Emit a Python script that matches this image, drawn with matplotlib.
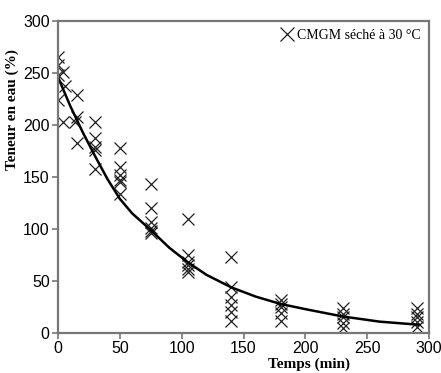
import numpy as np
import matplotlib.pyplot as plt

# measured water content (%) at each drying time (min)
t_obs = [0, 0, 4, 0, 6, 0, 4,
         15, 15, 14, 15,
         30, 30, 30, 30, 30,
         50, 50, 50, 50, 50, 50,
         75, 75, 75, 75, 75, 75,
         105, 105, 105, 105, 105, 105,
         140, 140, 140, 140, 140, 140,
         180, 180, 180, 180, 180,
         230, 230, 230, 230, 230,
         290, 290, 290, 290, 290]
w_obs = [265, 258, 251, 248, 237, 224, 203,
         229, 208, 203, 183,
         203, 187, 179, 176, 158,
         178, 160, 152, 147, 145, 134,
         143, 120, 107, 101, 98, 96,
         110, 75, 68, 65, 62, 59,
         73, 44, 35, 27, 20, 12,
         32, 28, 25, 19, 12,
         24, 18, 15, 10, 5,
         24, 18, 15, 11, 6]

# fitted drying curve
t_fit = [0, 10, 20, 30, 40, 50, 60, 75, 90, 105, 120, 140, 160, 180, 200, 230, 260, 292]
w_fit = [246, 218, 193, 170, 148, 129, 115, 99, 82, 68, 56, 44, 35, 28, 23, 16, 11, 8]

fig = plt.figure(figsize=(4.41, 3.73), dpi=100)
ax = fig.add_axes([0.1315, 0.107, 0.8415, 0.837])

ax.plot(t_obs, w_obs, linestyle='none', marker='x', ms=9, mew=0.9,
        color='#222222', label='CMGM séché à 30 °C')
ax.plot(t_fit, w_fit, color='black', lw=1.8)

ax.set_xlim(0, 300)
ax.set_ylim(0, 300)
ax.set_xticks(np.arange(0, 301, 50))
ax.set_yticks(np.arange(0, 301, 50))

for s in ax.spines.values():
    s.set_color('#777777')
    s.set_linewidth(1.6)
ax.tick_params(direction='out', length=4, width=1.2, color='#777777',
               labelsize=11.5, pad=2)
for lab in ax.get_xticklabels() + ax.get_yticklabels():
    lab.set_family(['Liberation Sans', 'DejaVu Sans'])

ax.set_xlabel('Temps (min)', family='Liberation Serif', fontweight='bold', fontsize=11)
ax.xaxis.set_label_coords(0.677, -0.1)
ax.xaxis.label.set_va('center')
ax.set_ylabel('Teneur en eau (%)', family='Liberation Serif', fontweight='bold', fontsize=11)
ax.yaxis.set_label_coords(-0.124, 0.715)
ax.yaxis.label.set_va('center')

ax.legend(loc='upper right', frameon=False, handlelength=0.6, handletextpad=0.4,
          borderaxespad=0.2, markerscale=1.1,
          prop={'family': 'Liberation Serif', 'size': 10})

fig.savefig('out.png', dpi=100)
